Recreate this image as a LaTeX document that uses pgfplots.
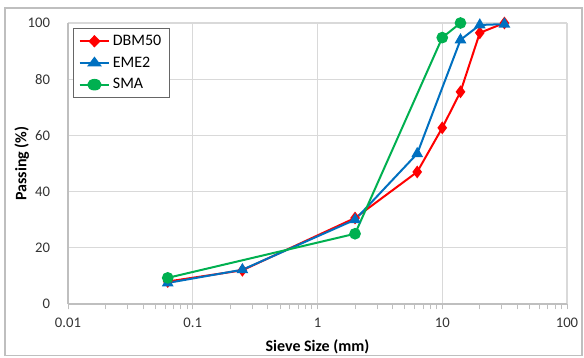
\documentclass[border=0pt]{standalone}
\usepackage{pgfplots}
\pgfplotsset{compat=1.18}
\usepackage{fontspec}
\setmainfont{Carlito}
\definecolor{cred}{RGB}{255,0,0}
\definecolor{cblue}{RGB}{0,112,192}
\definecolor{cgreen}{RGB}{0,176,80}
\definecolor{gridc}{RGB}{217,217,217}
\definecolor{axc}{RGB}{191,191,191}
\begin{document}
\begin{tikzpicture}
\useasboundingbox (-51pt,-39.75pt) rectangle (387pt,228pt);
\draw[axc, line width=0.8pt] (-47.25pt,-38.5pt) rectangle (385.5pt,222pt);
\begin{axis}[
  at={(0pt,0pt)}, anchor=south west,
  scale only axis, width=374.25pt, height=210.75pt,
  xmode=log, xmin=0.01, xmax=100, ymin=0, ymax=100,
  ytick={0,20,...,100},
  xtick={0.01,0.1,1,10,100},
  xticklabels={0.01,0.1,1,10,100},
  /pgf/number format/assume math mode=true,
  grid=major, major grid style={gridc, line width=0.8pt},
  axis line style={axc, line width=0.8pt},
  axis x line*=bottom, axis y line*=left,
  x axis line style={-}, y axis line style={-},
  xtick pos=bottom, ytick pos=left,
  tick align=outside,
  minor x tick num=8,
  x tick style={axc, line width=0.6pt},
  y tick style={draw=none},
  major tick length=4pt,
  minor tick length=4pt,
  tick label style={font=\fontsize{11}{13}\selectfont, text=black!80},
  yticklabel style={xshift=-6pt},
  xticklabel style={yshift=-3pt},
  xlabel={\textbf{Sieve Size (mm)}}, ylabel={\textbf{Passing (\%)}},
  label style={font=\fontsize{12}{14}\selectfont},
  xlabel style={yshift=-2pt},
  ylabel style={yshift=-8pt},
  legend cell align=left,
  legend image post style={xscale=1.3},
  legend style={at={(0.01,0.982)}, anchor=north west, draw=black!60, line width=0.5pt,
    font=\fontsize{12}{14}\selectfont, inner xsep=4pt, inner ysep=3pt, row sep=3pt},
]
\addplot[cred, line width=1.5pt, mark=diamond*, mark size=3.6pt, mark options={solid}] coordinates {
 (0.063,8) (0.25,12) (2,30.6) (6.3,47) (10,62.7) (14,75.5) (20,96.5) (31.5,100)};
\addlegendentry{DBM50}
\addplot[cblue, line width=1.5pt, mark=triangle*, mark size=3.6pt] coordinates {
 (0.063,7.5) (0.25,12.2) (2,30) (6.3,53.5) (14,94) (20,99.3) (31.5,99.6)};
\addlegendentry{EME2}
\addplot[cgreen, line width=1.5pt, mark=*, mark size=3.6pt] coordinates {
 (0.063,9.3) (2,25) (10,94.8) (14,100)};
\addlegendentry{SMA}
\end{axis}
\end{tikzpicture}
\end{document}
